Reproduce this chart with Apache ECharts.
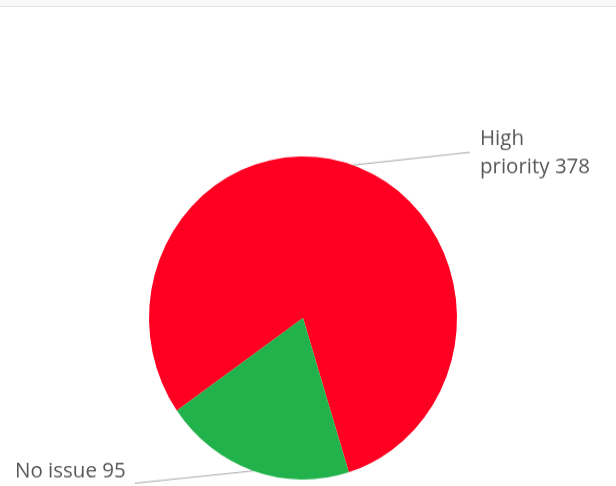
<!DOCTYPE html>
<html>
<head>
<meta charset="utf-8">
<style>
  html, body { margin: 0; padding: 0; background: #ffffff; overflow: hidden; }
  #topbar { position: absolute; left: 0; top: 0; width: 616px; height: 6px; background: #f8f8f8; border-bottom: 1px solid #e2e2e2; z-index: 2; }
  /* the pie is drawn slightly taller than wide */
  #chart { position: absolute; left: 0; top: 0; width: 616px; height: 486px; transform-origin: 303px 318px; transform: scaleY(1.049); }
</style>
<script src="https://cdn.jsdelivr.net/npm/echarts@6/dist/echarts.min.js"></script>
</head>
<body>
<div id="topbar"></div>
<div id="chart"></div>
<script>
// Issue counts by status
const categories = ['High priority', 'No issue'];
const displayNames = ['High\npriority', 'No issue'];
const counts = [378, 95];
const sliceColors = ['#ff0022', '#22b24c'];

// Where each label sits and where its leader line ends
const labelAnchors = [
  { x: 480, y: 160.5, align: 'left', lineEnd: [470, 160] },
  { x: 15, y: 464, align: 'left', lineEnd: [135, 475.5] }
];

const chart = echarts.init(document.getElementById('chart'), null, { renderer: 'canvas' });

chart.setOption({
  animation: false,
  series: [{
    type: 'pie',
    center: [303, 318],
    radius: 154,
    startAngle: 215,
    clockwise: true,
    avoidLabelOverlap: false,
    data: categories.map((name, i) => ({
      name: name,
      value: counts[i],
      itemStyle: { color: sliceColors[i] }
    })),
    label: {
      show: true,
      formatter: p => displayNames[p.dataIndex] + ' ' + p.value,
      fontFamily: 'Open Sans',
      fontSize: 20.5,
      lineHeight: 26.7,
      color: '#585858'
    },
    labelLine: {
      show: true,
      length: 20,
      length2: 20,
      lineStyle: { color: '#a8a8a8', width: 1 }
    },
    labelLayout: function (params) {
      const a = labelAnchors[params.dataIndex];
      const p0 = params.labelLinePoints ? params.labelLinePoints[0] : a.lineEnd;
      return {
        x: a.x,
        y: a.y,
        align: a.align,
        verticalAlign: 'middle',
        labelLinePoints: [p0, a.lineEnd, a.lineEnd]
      };
    },
    emphasis: { disabled: true }
  }]
});
</script>
</body>
</html>
